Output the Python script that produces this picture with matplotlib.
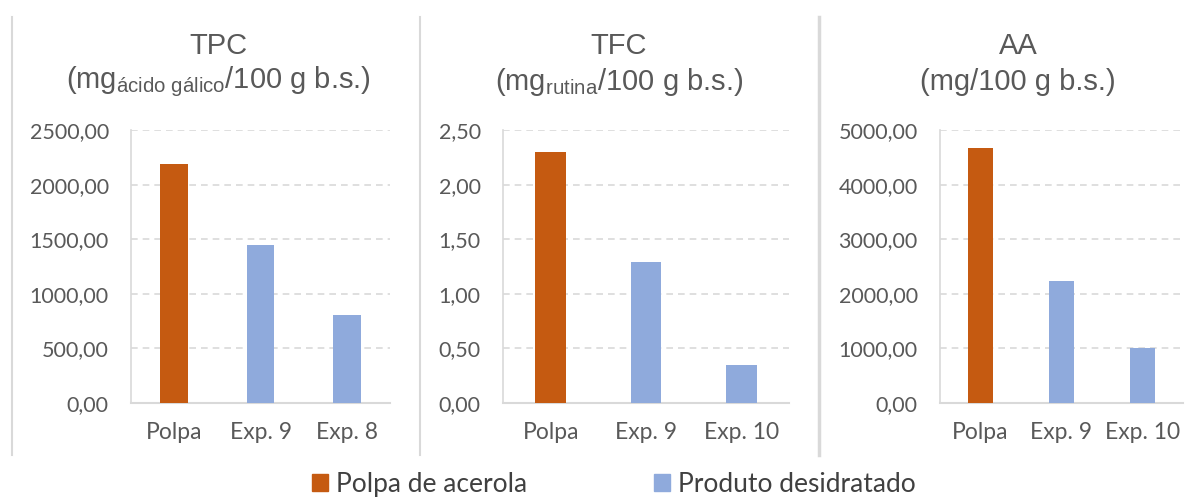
import matplotlib
matplotlib.use('Agg')
import matplotlib.pyplot as plt
from matplotlib.lines import Line2D
from matplotlib.patches import Patch

# values
tpc_labels = ['Polpa', 'Exp. 9', 'Exp. 8']
tpc_values = [2190, 1450, 810]
tfc_labels = ['Polpa', 'Exp. 9', 'Exp. 10']
tfc_values = [2.30, 1.29, 0.35]
aa_labels = ['Polpa', 'Exp. 9', 'Exp. 10']
aa_values = [4670, 2235, 1005]

tpc_ticks = [0, 500, 1000, 1500, 2000, 2500]
tfc_ticks = [0, 0.5, 1.0, 1.5, 2.0, 2.5]
aa_ticks = [0, 1000, 2000, 3000, 4000, 5000]

titles = ['TPC', 'TFC', 'AA']
units = [r'(mg$_{\mathrm{ácido\ gálico}}$/100 g b.s.)',
         r'(mg$_{\mathrm{rutina}}$/100 g b.s.)',
         '(mg/100 g b.s.)']
legend_names = ['Polpa de acerola', 'Produto desidratado']

orange = '#C55A11'
blue = '#8FAADC'
grey_txt = '#595959'
grid_c = '#D9D9D9'

plt.rcParams['mathtext.fontset'] = 'custom'
plt.rcParams['mathtext.rm'] = 'Liberation Sans'
plt.rcParams['mathtext.it'] = 'Liberation Sans'

W, H = 1200, 498
fig = plt.figure(figsize=(12, 4.98), dpi=100)

# axes boxes in pixels: left, right
boxes = [(131, 390), (503, 789), (940, 1183)]
top_px, bot_px = 130, 403
title_x = [218, 619, 1018]

panels = [(tpc_labels, tpc_values, tpc_ticks),
          (tfc_labels, tfc_values, tfc_ticks),
          (aa_labels, aa_values, aa_ticks)]

for i, (labels, values, ticks) in enumerate(panels):
    l, r = boxes[i]
    ax = fig.add_axes([l / W, 1 - bot_px / H, (r - l) / W, (bot_px - top_px) / H])
    cols = [orange] + [blue] * (len(values) - 1)
    ax.bar(range(len(values)), values, width=0.32, color=cols, zorder=3)
    ax.set_xlim(-0.5, len(values) - 0.5)
    ax.set_ylim(ticks[0], ticks[-1])
    ax.set_yticks(ticks)
    ax.set_yticklabels([('%.2f' % t).replace('.', ',') for t in ticks])
    ax.set_xticks(range(len(values)))
    ax.set_xticklabels(labels)
    ax.yaxis.grid(True, color=grid_c, linestyle=(0, (4, 3)), linewidth=1.2, zorder=0)
    ax.spines['top'].set_visible(False)
    ax.spines['right'].set_visible(False)
    ax.spines['left'].set_color(grid_c)
    ax.spines['bottom'].set_color(grid_c)
    ax.spines['left'].set_linewidth(1.2)
    ax.spines['bottom'].set_linewidth(1.5)
    ax.tick_params(length=0, labelcolor=grey_txt)
    ax.tick_params(axis='y', pad=16, labelsize=15.5)
    ax.tick_params(axis='x', pad=14, labelsize=16.5)
    for t in ax.get_xticklabels() + ax.get_yticklabels():
        t.set_family('Lato')

    fig.text(title_x[i] / W, 1 - 46 / H, titles[i], ha='center', va='center',
             fontsize=21, color=grey_txt, family='Liberation Sans')
    fig.text(title_x[i] / W, 1 - 82 / H, units[i], ha='center', va='center',
             fontsize=21, color=grey_txt, family='Liberation Sans')

# panel separators
for x, lw in [(12, 1.5), (420, 1.5), (819, 2.5)]:
    fig.add_artist(Line2D([x / W, x / W], [1 - 17 / H, 1 - 455 / H],
                          color=grid_c, linewidth=lw))

handles = [Patch(color=orange), Patch(color=blue)]
leg = fig.legend(handles, legend_names, loc='center', ncol=2,
                 bbox_to_anchor=(614 / W, 1 - 484 / H), frameon=False,
                 prop={'family': 'Lato', 'size': 19}, handlelength=0.6,
                 handleheight=0.6, handletextpad=0.3, columnspacing=4.8,
                 borderpad=0)
for t in leg.get_texts():
    t.set_color('#404040')

fig.savefig('out.png', dpi=100)
